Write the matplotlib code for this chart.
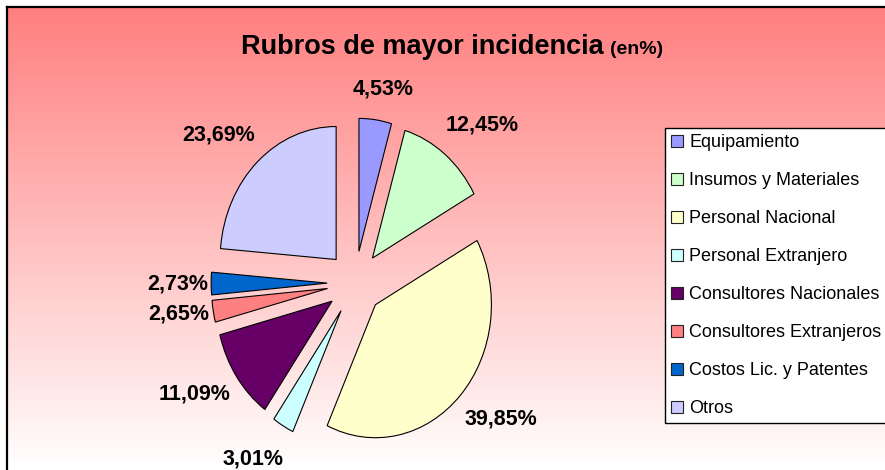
import numpy as np
import matplotlib
matplotlib.use('Agg')
import matplotlib.pyplot as plt
from matplotlib.patches import Patch
from matplotlib.colors import LinearSegmentedColormap

categories = ["Equipamiento", "Insumos y Materiales", "Personal Nacional",
              "Personal Extranjero", "Consultores Nacionales",
              "Consultores Extranjeros", "Costos Lic. y Patentes", "Otros"]
values = [4.53, 12.45, 39.85, 3.01, 11.09, 2.65, 2.73, 23.69]
colors = ["#9999FF", "#CCFFCC", "#FFFFCC", "#CCFFFF", "#660066",
          "#FF8080", "#0066CC", "#CCCCFF"]
title_main = "Rubros de mayor incidencia"
title_sub = "(en%)"

plt.rcParams['font.family'] = ['Liberation Sans', 'DejaVu Sans']

W, H = 885, 470
fig = plt.figure(figsize=(W / 100, H / 100), dpi=100)
fig.patch.set_facecolor('white')

# gradient background of chart area
bg = fig.add_axes([7 / W, 0, 1 - 7 / W, 1 - 7 / H])
grad = np.linspace(0, 1, 256).reshape(-1, 1)
cmap = LinearSegmentedColormap.from_list('bg', ['#FF7F7F', '#FFFFFF'])
bg.imshow(grad, aspect='auto', cmap=cmap, extent=[0, 1, 0, 1], origin='upper')
bg.set_xticks([])
bg.set_yticks([])
for side in ['right', 'bottom']:
    bg.spines[side].set_visible(False)
for side in ['left', 'top']:
    bg.spines[side].set_color('black')
    bg.spines[side].set_linewidth(1.6)

# pie
labels = [f"{v:.2f}%".replace('.', ',') for v in values]
ax_box = [192.6 / W, 0.8 / H, 324.8 / W, 372.4 / H]
lim = 1.4
ax = fig.add_axes(ax_box)
wedges, texts = ax.pie(values, colors=colors, startangle=90, counterclock=False,
                       explode=[0.24] * len(values), labels=labels,
                       labeldistance=1.33,
                       wedgeprops=dict(edgecolor='black', linewidth=0.8),
                       textprops=dict(fontsize=15.5, fontweight='bold', color='black'))
ax.set_aspect('auto')
ax.set_xlim(-lim, lim)
ax.set_ylim(-lim, lim)
ax.axis('off')

# place labels outside the wedges (box-shaped label ring, in pixels)
px_x = ax_box[2] * W / (2 * lim)   # pixels per data unit, horizontal
px_y = ax_box[3] * H / (2 * lim)   # pixels per data unit, vertical
ring_a, ring_b, ring_p = 177.0, 195.0, 2.6
for w, t in zip(wedges, texts):
    th = np.deg2rad((w.theta1 + w.theta2) / 2)
    c, s = np.cos(th), np.sin(th)
    rr = (abs(c / ring_a) ** ring_p + abs(s / ring_b) ** ring_p) ** (-1 / ring_p)
    t.set_position((rr * c / px_x, rr * s / px_y))
    t.set_ha('center')
    t.set_va('center')

# title
ty = 1 - 54 / H
t1 = fig.text(0, ty, title_main, fontsize=19.5, fontweight='bold', va='baseline', ha='left')
t2 = fig.text(0, ty, title_sub, fontsize=14, fontweight='bold', va='baseline', ha='left')
r = fig.canvas.get_renderer()
w1 = t1.get_window_extent(r).width
w2 = t2.get_window_extent(r).width
gap = 6
x0 = 452 - (w1 + gap + w2) / 2
t1.set_x(x0 / W)
t2.set_x((x0 + w1 + gap) / W)

# legend
handles = [Patch(facecolor=c, edgecolor='#222222', linewidth=0.8) for c in colors]
leg = fig.legend(handles, categories, loc='upper left',
                 bbox_to_anchor=(665 / W, 1 - 128 / H), bbox_transform=fig.transFigure,
                 borderaxespad=0, fontsize=13, frameon=True, fancybox=False,
                 framealpha=1, edgecolor='black', facecolor='white',
                 handlelength=0.65, handleheight=0.65, handletextpad=0.35,
                 labelspacing=1.16, borderpad=0.35)
leg.get_frame().set_linewidth(1.0)

fig.savefig('out.png', dpi=100)
